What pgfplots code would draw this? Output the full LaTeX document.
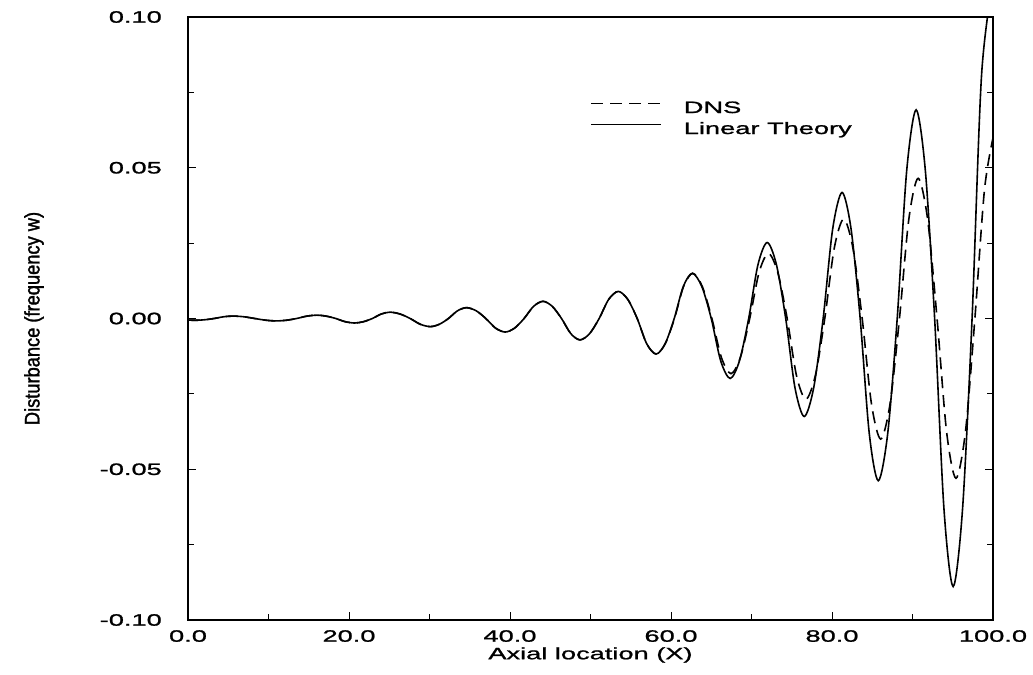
\documentclass[border=0pt]{standalone}
\usepackage{pgfplots}
\pgfplotsset{compat=1.18}
\usepackage{fontspec}
\setmainfont{Liberation Sans}
\newfontfamily\widefont[FakeStretch=1.65,FakeBold=1.2]{Liberation Sans}
\newfontfamily\ylabfont[FakeStretch=0.87,FakeBold=1.5]{Liberation Sans}

\pgfplotstableread{
x y
0 -0.0005
0.9 -0.0006
2.075 -0.00042
3.25 0
4.425 0.00057
5.6 0.0008
6.95 0.00057
8.3 0
9.65 -0.00057
11.0 -0.0008
12.25 -0.00057
13.5 0
14.75 0.00078
16.0 0.0011
17.175 0.00078
18.35 0
19.525 -0.00106
20.7 -0.0015
21.8 -0.00106
22.9 0
24.0 0.00148
25.1 0.0021
26.35 0.00148
27.6 0
28.85 -0.00191
30.1 -0.0027
31.225 -0.00191
32.35 0
33.475 0.00255
34.6 0.0036
35.8 0.00255
37.0 0
38.2 -0.00318
39.4 -0.0045
40.575 -0.00318
41.75 0
42.925 0.00403
44.1 0.0057
45.25 0.00403
46.4 0
47.55 -0.00502
48.7 -0.0071
49.888 -0.00502
51.075 0
52.263 0.00636
53.45 0.0090
54.625 0.00636
55.8 0
56.975 -0.00834
58.15 -0.0118
59.275 -0.00834
60.4 0
61.525 0.01061
62.65 0.0150
63.825 0.01061
65.0 0
66.175 -0.01407
67.35 -0.0199
68.5 -0.01407
69.65 0
70.8 0.01782
71.95 0.0252
73.1 0.01782
74.25 0
75.4 -0.02298
76.55 -0.0325
77.725 -0.02298
78.9 0
80.075 0.02955
81.25 0.0418
82.375 0.02955
83.5 0
84.625 -0.03804
85.75 -0.0538
86.925 -0.03804
88.1 0
89.275 0.04892
90.45 0.0692
91.6 0.04892
92.75 0
93.9 -0.06285
95.05 -0.0889
96.225 -0.06285
97.4 0
98.575 0.0806
100 0.112
}\lineartable

\pgfplotstableread{
x y
0 -0.0005
0.9 -0.0006
2.075 -0.00042
3.25 0
4.425 0.00057
5.6 0.0008
6.95 0.00057
8.3 0
9.65 -0.00057
11.0 -0.0008
12.25 -0.00057
13.5 0
14.75 0.00078
16.0 0.0011
17.175 0.00078
18.35 0
19.525 -0.00106
20.7 -0.0015
21.8 -0.00106
22.9 0
24.0 0.00148
25.1 0.0021
26.35 0.00148
27.6 0
28.85 -0.00191
30.1 -0.0027
31.225 -0.00191
32.35 0
33.475 0.00255
34.6 0.0036
35.8 0.00255
37.0 0
38.2 -0.00318
39.4 -0.0045
40.575 -0.00318
41.75 0
42.925 0.00403
44.1 0.0057
45.25 0.00403
46.4 0
47.55 -0.00502
48.7 -0.0071
49.888 -0.00502
51.075 0
52.263 0.00636
53.45 0.0090
54.625 0.00636
55.8 0
56.975 -0.00834
58.15 -0.0118
59.29 -0.00834
60.43 0
61.56 0.0106
62.7 0.0150
63.89 0.0106
65.08 0
66.26 -0.01294
67.45 -0.0183
68.61 -0.01294
69.78 0
70.94 0.01527
72.1 0.0216
73.26 0.01527
74.43 0
75.59 -0.01895
76.75 -0.0268
77.93 -0.01895
79.1 0
80.28 0.02333
81.45 0.0330
82.6 0.02333
83.75 0
84.9 -0.02828
86.05 -0.0400
87.21 -0.02828
88.38 0
89.54 0.03288
90.7 0.0465
91.88 0.03288
93.05 0
94.23 -0.03747
95.4 -0.0530
96.58 -0.03747
97.75 0
98.93 0.04242
100 0.0599
}\dnstable

\begin{document}
\begin{tikzpicture}
\path[use as bounding box] (0,0) rectangle (1033bp,675bp);
\begin{axis}[
  at={(188bp,55bp)}, anchor=south west,
  scale only axis, width=805bp, height=603bp,
  xmin=0, xmax=100, ymin=-0.1, ymax=0.1,
  xtick={0,20,40,60,80,100},
  xticklabels={0.0,20.0,40.0,60.0,80.0,100.0},
  ytick={-0.1,-0.05,0,0.05,0.1},
  yticklabels={-0.10,-0.05,0.00,0.05,0.10},
  minor x tick num=1, minor y tick num=1,
  tick align=inside,
  xtick pos=bottom,
  ytick pos=both, yticklabel pos=left,
  major tick length=8bp, minor tick length=6bp,
  every tick/.style={black, line width=1bp},
  axis line style={line width=1.2bp},
  xticklabel style={font=\widefont\fontsize{16.5bp}{18bp}\selectfont, anchor=north, inner sep=0pt, yshift=-10bp},
  yticklabel style={font=\widefont\fontsize{16.5bp}{18bp}\selectfont, anchor=east, inner sep=0pt, xshift=-26bp},
  xlabel={Axial location (X)},
  xlabel style={at={(axis description cs:0.5,-0.058)}, anchor=center, inner sep=0pt, font=\widefont\fontsize{16.5bp}{18bp}\selectfont},
  ylabel={Disturbance (frequency w)},
  ylabel style={at={(axis description cs:-0.1913,0.5)}, anchor=center, inner sep=0pt, font=\ylabfont\fontsize{21bp}{23bp}\selectfont},
  legend style={at={(axis description cs:0.4994,0.861)}, anchor=north west, draw=none, fill=none, inner sep=0pt,
    row sep=6bp, column sep=22bp,
    font=\widefont\fontsize{16.5bp}{18bp}\selectfont,
    nodes={inner sep=0pt, text height=12bp, text depth=3bp}},
  legend cell align=left,
  legend image code/.code={\draw[#1, line width=1.6bp] (0bp,5bp) -- (70bp,5bp);},
]
\addplot[black, line width=1.6bp, dash pattern=on 12bp off 7bp, smooth] table[x=x,y=y] {\dnstable};
\addlegendentry{DNS}
\addplot[black, line width=1.6bp, smooth] table[x=x,y=y] {\lineartable};
\addlegendentry{Linear Theory}
\end{axis}
\end{tikzpicture}
\end{document}
